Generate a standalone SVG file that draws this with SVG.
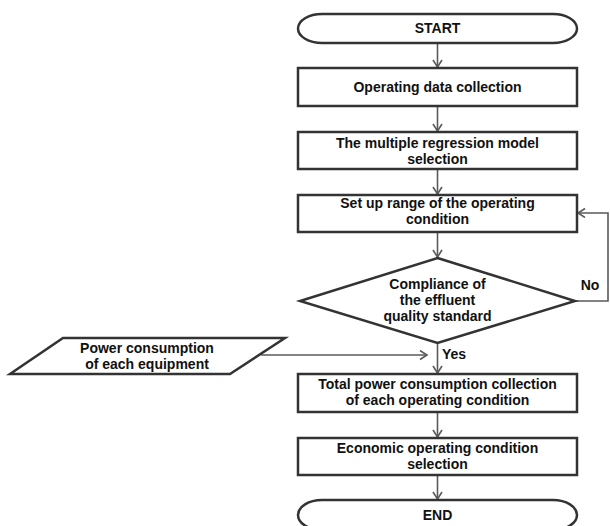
<svg xmlns="http://www.w3.org/2000/svg" width="610" height="526" viewBox="0 0 610 526">
<defs>
<style>
.n{fill:#fff;stroke:#333;stroke-width:2.5}
.t{font-family:"Liberation Sans",Arial,sans-serif;font-weight:bold;font-size:14px;fill:#111;text-anchor:middle}
.c{fill:none;stroke:#5a5a5a;stroke-width:1.6}
</style>
<marker id="ah" markerUnits="userSpaceOnUse" markerWidth="12" markerHeight="12" refX="8" refY="5" orient="auto">
<path d="M1,0.5 L8,5 L1,9.5" fill="none" stroke="#5a5a5a" stroke-width="1.6"/>
</marker>
</defs>
<rect width="610" height="526" fill="#fff"/>
<g id="connectors">
<line class="c" x1="437.5" y1="43" x2="437.5" y2="67" marker-end="url(#ah)"/>
<line class="c" x1="437.5" y1="106" x2="437.5" y2="131" marker-end="url(#ah)"/>
<line class="c" x1="437.5" y1="169" x2="437.5" y2="194" marker-end="url(#ah)"/>
<line class="c" x1="437.5" y1="232" x2="437.5" y2="257" marker-end="url(#ah)"/>
<line class="c" x1="437.5" y1="343" x2="437.5" y2="373" marker-end="url(#ah)"/>
<line class="c" x1="437.5" y1="412" x2="437.5" y2="437" marker-end="url(#ah)"/>
<line class="c" x1="437.5" y1="475" x2="437.5" y2="499" marker-end="url(#ah)"/>
<polyline class="c" points="575,301 608,301 608,213 578,213" marker-end="url(#ah)"/>
<line class="c" x1="261" y1="355" x2="427" y2="355" marker-end="url(#ah)"/>
<text class="t" x="590" y="290">No</text>
<text class="t" x="442" y="359" style="text-anchor:start">Yes</text>
</g>
<g id="start">
<rect class="n" x="298" y="14" width="279" height="29" rx="24" ry="14.5"/>
<text class="t" x="437.5" y="33">START</text>
</g>
<g id="operating-data">
<rect class="n" x="298" y="68" width="279" height="38"/>
<text class="t" x="437.5" y="92">Operating data collection</text>
</g>
<g id="regression">
<rect class="n" x="298" y="132" width="279" height="37"/>
<text class="t" x="437.5" y="148">The multiple regression model</text>
<text class="t" x="437.5" y="164">selection</text>
</g>
<g id="setup-range">
<rect class="n" x="298" y="195" width="279" height="37"/>
<text class="t" x="437.5" y="208">Set up range of the operating</text>
<text class="t" x="437.5" y="224">condition</text>
</g>
<g id="compliance">
<polygon class="n" points="437.5,258 575,301 437.5,343 300,301"/>
<text class="t" x="437.5" y="289">Compliance of</text>
<text class="t" x="437.5" y="305">the effluent</text>
<text class="t" x="437.5" y="321">quality standard</text>
</g>
<g id="power-input">
<polygon class="n" points="63,338 285,338 230,374 10,374"/>
<text class="t" x="147" y="353">Power consumption</text>
<text class="t" x="147" y="369">of each equipment</text>
</g>
<g id="total-power">
<rect class="n" x="298" y="374" width="279" height="38"/>
<text class="t" x="437.5" y="389">Total power consumption collection</text>
<text class="t" x="437.5" y="405">of each operating condition</text>
</g>
<g id="economic">
<rect class="n" x="298" y="438" width="279" height="37"/>
<text class="t" x="437.5" y="453">Economic operating condition</text>
<text class="t" x="437.5" y="469">selection</text>
</g>
<g id="end">
<rect class="n" x="298" y="500" width="279" height="30" rx="24" ry="15"/>
<text class="t" x="437.5" y="520">END</text>
</g>
</svg>
